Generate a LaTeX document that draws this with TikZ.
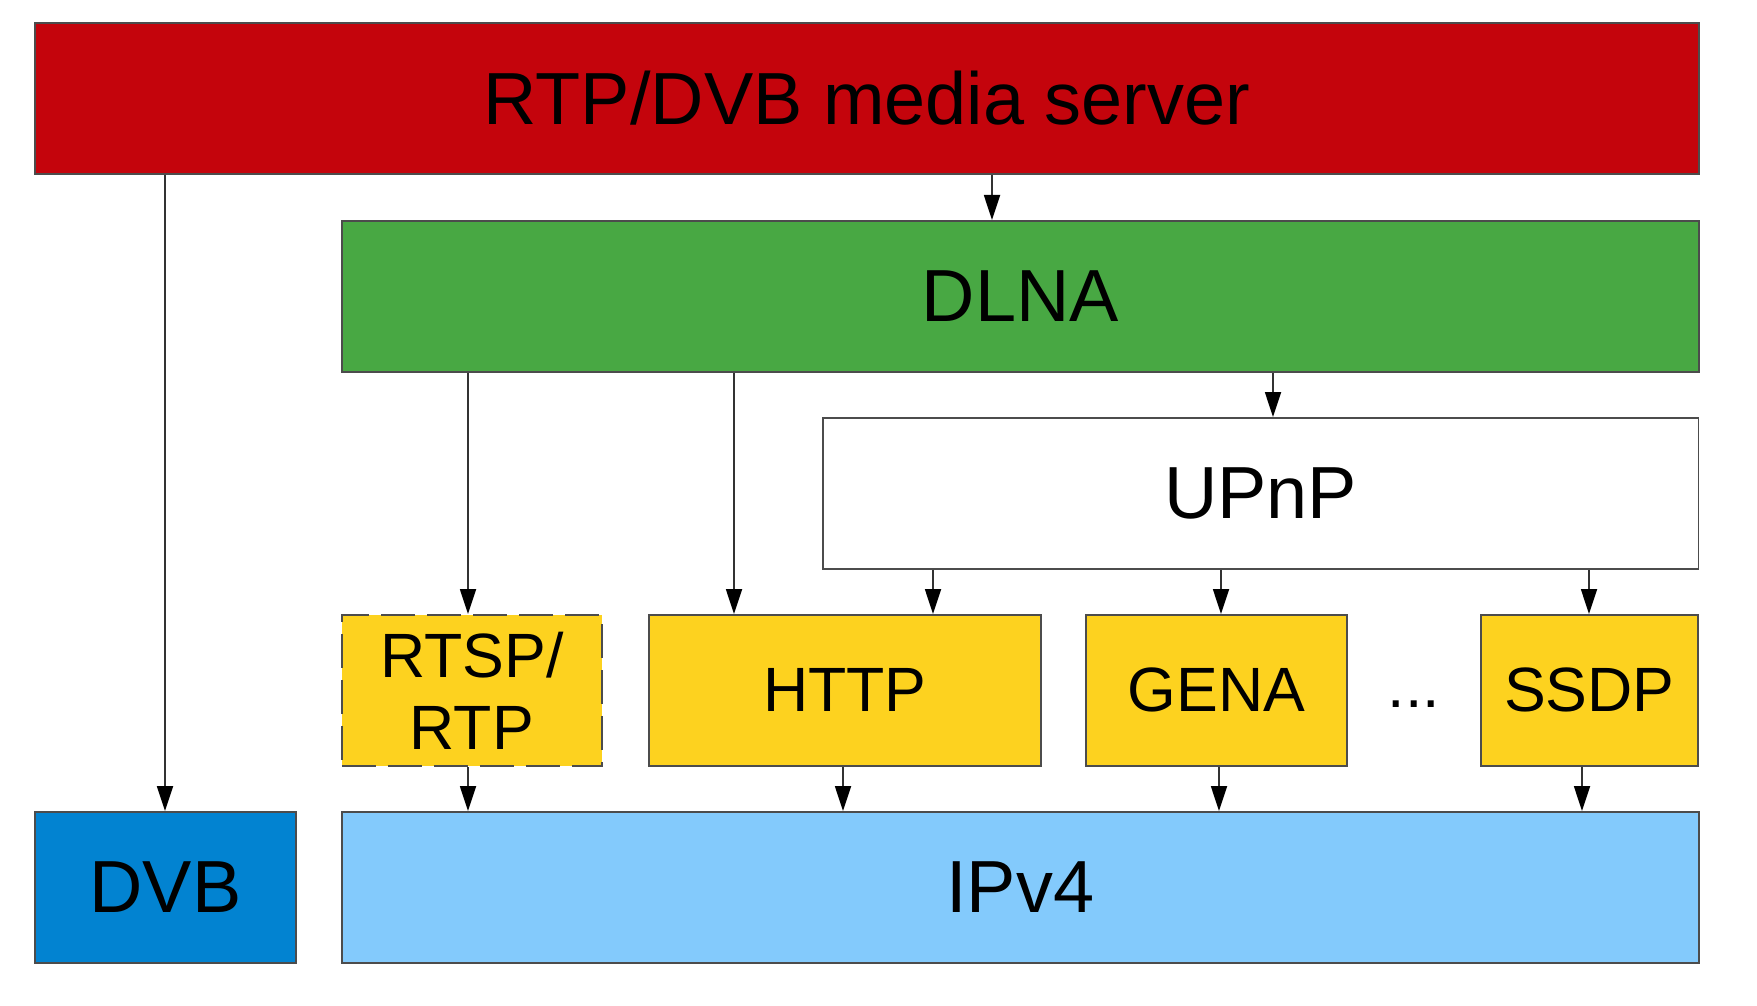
\documentclass[tikz,border=0pt]{standalone}
\usepackage{fontspec}
\setmainfont{Liberation Sans}
\usetikzlibrary{arrows.meta}
\definecolor{srvred}{HTML}{C4040C}
\definecolor{dlnagreen}{HTML}{48A843}
\definecolor{dvbblue}{HTML}{0283D1}
\definecolor{ipblue}{HTML}{83CAFC}
\definecolor{protoyellow}{HTML}{FDD21F}
\tikzset{
  box/.style = {draw = black!70, line width = 0.5pt, inner sep = 0pt, anchor = north west,
    minimum height = 1.51cm, font = \fontsize{21}{25}\selectfont},
  proto/.style = {box, fill = protoyellow, font = \fontsize{17.8}{20.5}\selectfont},
  arr/.style = {draw = black!80, line width = 0.5pt, -{Triangle[width = 0.16cm, length = 0.25cm, color = black]}}
}
\begin{document}
\begin{tikzpicture}[x = 0.01cm, y = -0.01cm]
\useasboundingbox (0,0) rectangle (1757,1005);
% layers
\node[box, fill = srvred, minimum width = 16.63cm] (srv) at (34,22) {RTP/DVB media server};
\node[box, fill = dlnagreen, minimum width = 13.56cm] (dlna) at (341,220) {DLNA};
\node[box, fill = white, minimum width = 8.75cm] (upnp) at (822,417) {UPnP};
\node[proto, draw = black!70, dash pattern = on 0.34cm off 0.12cm, minimum width = 2.6cm, align = center] (rtsp) at (341,614) {RTSP/\\RTP};
\node[proto, minimum width = 3.92cm] (http) at (648,614) {HTTP};
\node[proto, minimum width = 2.61cm] (gena) at (1085,614) {GENA};
\node[proto, minimum width = 2.17cm] (ssdp) at (1480,614) {SSDP};
\node[font = \fontsize{17.8}{20.5}\selectfont] (dots) at (1414,704) {...};
\node[box, fill = dvbblue, minimum width = 2.61cm] (dvb) at (34,811) {DVB};
\node[box, fill = ipblue, minimum width = 13.56cm] (ipv) at (341,811) {IPv4};
% columns of the arrows
\coordinate (c0) at (165,0);
\coordinate (c1) at (468,0);
\coordinate (c2) at (734,0);
\coordinate (c3) at (933,0);
\coordinate (c4) at (992,0);
\coordinate (c5) at (1273,0);
\coordinate (c6) at (1221,0);
\coordinate (c7) at (1589,0);
\coordinate (c8) at (843,0);
\coordinate (c9) at (1219,0);
\coordinate (c10) at (1582,0);
% arrows
\draw[arr] (srv.south -| c0) -- (dvb.north -| c0);
\draw[arr] (srv.south -| c4) -- (dlna.north -| c4);
\draw[arr] (dlna.south -| c1) -- (rtsp.north -| c1);
\draw[arr] (dlna.south -| c2) -- (http.north -| c2);
\draw[arr] (dlna.south -| c5) -- (upnp.north -| c5);
\draw[arr] (upnp.south -| c3) -- (http.north -| c3);
\draw[arr] (upnp.south -| c6) -- (gena.north -| c6);
\draw[arr] (upnp.south -| c7) -- (ssdp.north -| c7);
\draw[arr] (rtsp.south -| c1) -- (ipv.north -| c1);
\draw[arr] (http.south -| c8) -- (ipv.north -| c8);
\draw[arr] (gena.south -| c9) -- (ipv.north -| c9);
\draw[arr] (ssdp.south -| c10) -- (ipv.north -| c10);
\end{tikzpicture}
\end{document}
